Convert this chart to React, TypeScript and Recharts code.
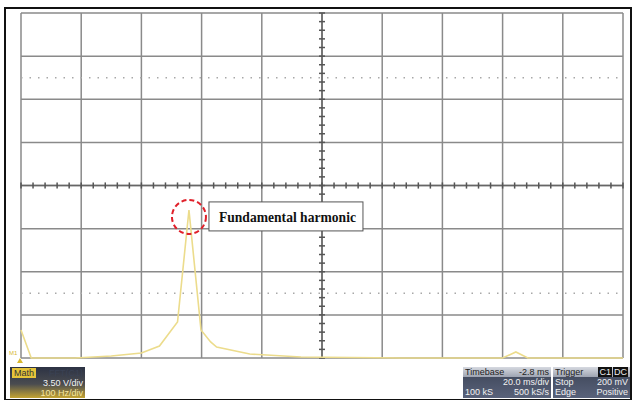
import React from 'react';
import { LineChart, Line, XAxis, YAxis, CartesianGrid, ReferenceLine, ReferenceDot } from 'recharts';

// FFT of channel 1: frequency (Hz) and magnitude (V)
const freqHz = [0, 17, 90, 150, 200, 230, 260, 279, 299, 315, 325, 380, 465, 630, 800, 822, 842, 1000];
const magV = [2.27, 0, 0, 0.16, 0.41, 0.97, 2.92, 12.0, 2.27, 1.3, 0.89, 0.32, 0.08, 0, 0, 0.49, 0, 0];

// scope graticule: 10 x 100 Hz/div, 8 x 3.50 V/div
const xDivs = [0, 100, 200, 300, 400, 500, 600, 700, 800, 900, 1000];
const yDivs = [0, 3.5, 7, 10.5, 14, 17.5, 21, 24.5, 28];
const dottedLevels = [5.25, 22.75];
const centerX = 500;
const centerY = 14;

const peakHz = 279;
const peakV = 12.0;
const noteText = 'Fundamental harmonic';

const data = freqHz.map((f, i) => ({ f, v: magV[i] }));

// minor ticks on the centre cross, 5 per division
const minorX = Array.from({ length: 51 }, (_, i) => i * 20);
const minorY = Array.from({ length: 41 }, (_, i) => +(i * 0.7).toFixed(2));

const TRACE = '#ecdc8c';
const GRID = '#8a8a8a';

const renderNote = (props: any) => {
    const vb = props.viewBox || {};
    const cx = vb.x + vb.width / 2;
    const cy = vb.y + vb.height / 2;
    return (
        <g>
            <rect x={cx + 20} y={cy - 15} width={154} height={29} fill="#fff" stroke="#555" strokeWidth={1} />
            <text
                x={cx + 30}
                y={cy + 5}
                fontFamily="'Liberation Serif', serif"
                fontWeight="bold"
                fontSize={15}
                textLength={137}
                lengthAdjust="spacingAndGlyphs"
                fill="#111"
            >
                {noteText}
            </text>
        </g>
    );
};

const panelText: React.CSSProperties = {
    fontFamily: "'Liberation Sans', Arial, sans-serif",
    fontSize: 9,
    lineHeight: '10px',
    color: '#f2f2f2',
    display: 'flex',
    justifyContent: 'space-between',
    padding: '0 2px',
};

const App: React.FC = () => {
    return (
        <div style={{ position: 'absolute', left: 0, top: 0, width: 643, height: 400, background: '#fff', overflow: 'hidden' }}>
            <div style={{ position: 'absolute', left: 4, top: 7, width: 628, height: 394, border: '2px solid #111', boxSizing: 'border-box' }} />
            <LineChart width={643} height={400} data={data} margin={{ top: 13, right: 20, bottom: 42, left: 21 }}>
                <CartesianGrid stroke={GRID} strokeWidth={1.5} />
                <XAxis type="number" dataKey="f" domain={[0, 1000]} ticks={xDivs} hide />
                <YAxis type="number" domain={[0, 28]} ticks={yDivs} hide />
                {dottedLevels.map((y) => (
                    <ReferenceLine key={'d' + y} y={y} stroke="#a8a8a8" strokeWidth={1.5} strokeDasharray="1.5 7" />
                ))}
                <ReferenceLine x={centerX} stroke="#666" strokeWidth={1.5} />
                <ReferenceLine y={centerY} stroke="#666" strokeWidth={1.5} />
                {minorX.map((x) => (
                    <ReferenceLine
                        key={'mx' + x}
                        segment={[{ x, y: centerY - 0.25 }, { x, y: centerY + 0.25 }]}
                        stroke="#555"
                        strokeWidth={1.5}
                    />
                ))}
                {minorY.map((y) => (
                    <ReferenceLine
                        key={'my' + y}
                        segment={[{ x: centerX - 5, y }, { x: centerX + 5, y }]}
                        stroke="#555"
                        strokeWidth={1.5}
                    />
                ))}
                <Line type="linear" dataKey="v" stroke={TRACE} strokeWidth={1.6} dot={false} isAnimationActive={false} />
                <ReferenceDot
                    x={peakHz}
                    y={peakV - 0.55}
                    r={17}
                    fill="none"
                    stroke="#e0202a"
                    strokeWidth={2}
                    strokeDasharray="5 3"
                    label={{ content: renderNote }}
                />
            </LineChart>

            {/* trace marker */}
            <div style={{ position: 'absolute', left: 9, top: 350, fontSize: 6, color: '#d8b830', fontFamily: 'Arial' }}>M1</div>
            <div style={{ position: 'absolute', left: 17, top: 358, width: 0, height: 0, borderLeft: '3px solid transparent', borderRight: '3px solid transparent', borderBottom: '5px solid #d8b830' }} />

            {/* math channel box */}
            <div style={{ position: 'absolute', left: 10, top: 367, width: 75, height: 31, background: 'linear-gradient(#2c3244, #4a4c50 55%, #c4a432)' }}>
                <div style={{ ...panelText, paddingTop: 1 }}>
                    <span style={{ background: '#e6c43a', color: '#333', padding: '0 2px' }}>Math</span>
                    <span style={{ color: '#3a4254' }}>FFT(C1)</span>
                </div>
                <div style={{ ...panelText, justifyContent: 'flex-end' }}>3.50 V/div</div>
                <div style={{ ...panelText, justifyContent: 'flex-end', color: '#f6e6a0' }}>100 Hz/div</div>
            </div>

            {/* timebase box */}
            <div style={{ position: 'absolute', left: 463, top: 367, width: 88, height: 31, background: 'linear-gradient(#3c4456, #59627a)' }}>
                <div style={{ ...panelText, background: 'linear-gradient(#d6d9e0, #9ea4b2)', color: '#222' }}>
                    <span>Timebase</span>
                    <span>-2.8 ms</span>
                </div>
                <div style={{ ...panelText, justifyContent: 'flex-end' }}>20.0 ms/div</div>
                <div style={panelText}>
                    <span>100 kS</span>
                    <span>500 kS/s</span>
                </div>
            </div>

            {/* trigger box */}
            <div style={{ position: 'absolute', left: 553, top: 367, width: 77, height: 31, background: 'linear-gradient(#3c4456, #59627a)' }}>
                <div style={{ ...panelText, background: 'linear-gradient(#d6d9e0, #9ea4b2)', color: '#222' }}>
                    <span>Trigger</span>
                    <span>
                        <span style={{ background: '#111', color: '#eee', padding: '0 1px' }}>C1</span>
                        <span style={{ background: '#111', color: '#eee', padding: '0 1px', marginLeft: 1 }}>DC</span>
                    </span>
                </div>
                <div style={panelText}>
                    <span>Stop</span>
                    <span>200 mV</span>
                </div>
                <div style={panelText}>
                    <span>Edge</span>
                    <span>Positive</span>
                </div>
            </div>
        </div>
    );
};

export default App;
